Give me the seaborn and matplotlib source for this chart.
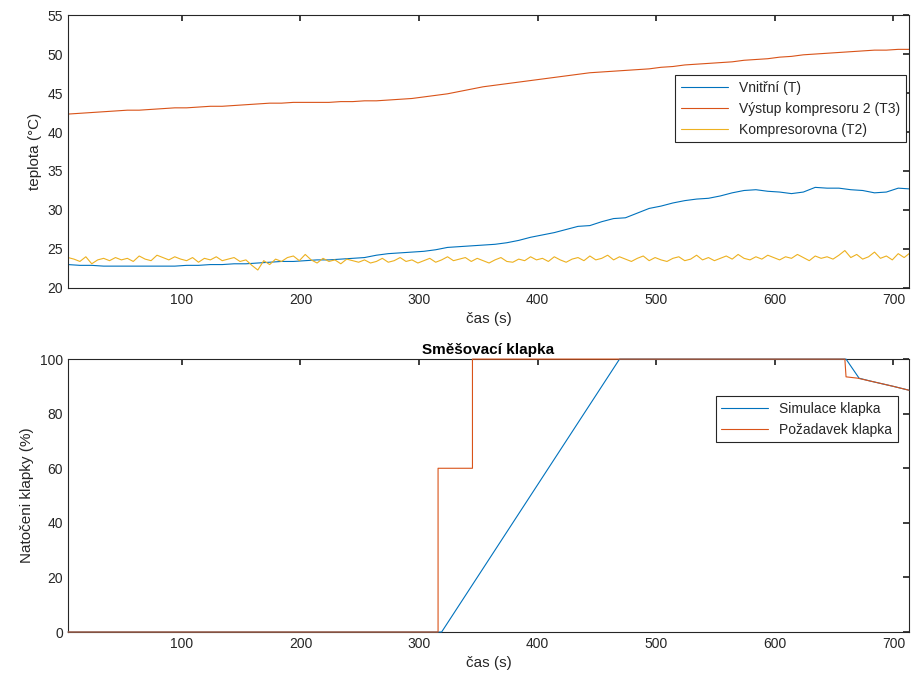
import numpy as np
import pandas as pd
import matplotlib
matplotlib.use("Agg")
import matplotlib.pyplot as plt
import seaborn as sns

# --- data ---
t_top = np.arange(4, 715, 10)
vnitrni = [
    23.0, 22.9, 22.9, 22.8, 22.8, 22.8, 22.8, 22.8, 22.8, 22.8,
    22.9, 22.9, 23.0, 23.0, 23.1, 23.1, 23.2, 23.3, 23.4, 23.4,
    23.5, 23.6, 23.6, 23.7, 23.8, 23.9, 24.2, 24.4, 24.5, 24.6,
    24.7, 24.9, 25.2, 25.3, 25.4, 25.5, 25.6, 25.8, 26.1, 26.5,
    26.8, 27.1, 27.5, 27.9, 28.0, 28.5, 28.9, 29.0, 29.6, 30.2,
    30.5, 30.9, 31.2, 31.4, 31.5, 31.8, 32.2, 32.5, 32.6, 32.4,
    32.3, 32.1, 32.3, 32.9, 32.8, 32.8, 32.6, 32.5, 32.2, 32.3,
    32.8, 32.7,
]
vystup_t3 = [
    42.3, 42.4, 42.5, 42.6, 42.7, 42.8, 42.8, 42.9, 43.0, 43.1,
    43.1, 43.2, 43.3, 43.3, 43.4, 43.5, 43.6, 43.7, 43.7, 43.8,
    43.8, 43.8, 43.8, 43.9, 43.9, 44.0, 44.0, 44.1, 44.2, 44.3,
    44.5, 44.7, 44.9, 45.2, 45.5, 45.8, 46.0, 46.2, 46.4, 46.6,
    46.8, 47.0, 47.2, 47.4, 47.6, 47.7, 47.8, 47.9, 48.0, 48.1,
    48.3, 48.4, 48.6, 48.7, 48.8, 48.9, 49.0, 49.2, 49.3, 49.4,
    49.6, 49.7, 49.9, 50.0, 50.1, 50.2, 50.3, 50.4, 50.5, 50.5,
    50.6, 50.6,
]
t_t2 = np.arange(4, 715, 5)
kompresorovna_t2 = [
    23.9, 23.7, 23.4, 24.0, 23.1, 23.6, 23.8, 23.5, 23.9, 23.6,
    23.8, 23.4, 24.1, 23.7, 23.5, 24.2, 23.9, 23.6, 24.0, 23.7,
    23.5, 23.9, 23.3, 23.8, 23.6, 24.0, 23.5, 23.7, 23.9, 23.4,
    23.6, 22.9, 22.3, 23.5, 23.0, 23.7, 23.4, 23.9, 24.1, 23.5,
    24.3, 23.6, 23.2, 23.8, 23.4, 23.6, 23.1, 23.7, 23.5, 23.3,
    23.6, 23.2, 23.4, 23.8, 23.3, 23.5, 23.9, 23.4, 23.6, 23.2,
    23.5, 23.8, 23.3, 23.6, 24.0, 23.5, 23.7, 23.9, 23.4, 23.8,
    23.5, 23.2, 23.6, 23.9, 23.4, 23.3, 23.7, 23.5, 24.0, 23.6,
    23.8, 23.4, 24.0, 23.6, 23.3, 23.7, 23.9, 23.5, 24.1, 23.6,
    23.8, 24.2, 23.6, 24.0, 23.7, 23.4, 23.8, 24.1, 23.5, 23.9,
    23.6, 23.4, 23.8, 24.0, 23.5, 23.7, 24.2, 23.6, 23.9, 23.5,
    23.8, 24.1, 23.7, 24.3, 23.8, 23.6, 24.0, 23.7, 24.2, 23.9,
    23.6, 24.0, 23.8, 24.3, 23.9, 23.5, 24.1, 23.8, 24.0, 23.7,
    24.2, 24.8, 23.9, 24.3, 23.7, 24.0, 24.6, 23.8, 24.1, 23.6,
    24.4, 23.9, 24.5,
]

sim_t = [4, 319, 469, 660, 671, 680, 690, 700, 713]
sim_klapka = [0, 0, 100, 100, 93, 92, 91, 90, 88.6]
req_t = [4, 316, 316, 345, 345, 659, 660, 670, 680, 690, 700, 713]
req_klapka = [0, 0, 60, 60, 100, 100, 93.5, 93, 92, 91, 90, 88.6]

c_blue, c_orange, c_yellow = "#0072BD", "#D95319", "#EDB120"
txt = "#262626"

sns.set_theme(style="white")
plt.rcParams["font.family"] = ["Liberation Sans", "DejaVu Sans"]
plt.rcParams.update({
    "xtick.direction": "in", "ytick.direction": "in",
    "xtick.top": True, "ytick.right": True,
    "xtick.color": txt, "ytick.color": txt,
    "xtick.labelsize": 10, "ytick.labelsize": 10,
    "xtick.major.size": 4, "ytick.major.size": 4,
    "axes.edgecolor": txt, "axes.linewidth": 0.8,
})

fig = plt.figure(figsize=(9.12, 6.84), dpi=100)
ax1 = fig.add_axes([0.0746, 0.579, 0.922, 0.399])
ax2 = fig.add_axes([0.0746, 0.076, 0.922, 0.399])

sns.lineplot(x=t_top, y=vnitrni, ax=ax1, color=c_blue, lw=0.8,
             label="Vnitřní (T)")
sns.lineplot(x=t_top, y=vystup_t3, ax=ax1, color=c_orange, lw=0.8,
             label="Výstup kompresoru 2 (T3)")
sns.lineplot(x=t_t2, y=kompresorovna_t2, ax=ax1, color=c_yellow, lw=0.8,
             label="Kompresorovna (T2)")
ax1.set_xlim(4, 713)
ax1.set_ylim(20, 55)
ax1.set_xticks(range(100, 701, 100))
ax1.set_yticks(range(20, 56, 5))
ax1.set_xlabel("čas (s)", fontsize=11, color=txt)
ax1.set_ylabel("teplota (°C)", fontsize=11, color=txt)
leg1 = ax1.legend(loc="upper right", bbox_to_anchor=(0.996, 0.78),
                  fancybox=False, framealpha=1, edgecolor=txt,
                  fontsize=10, handlelength=3.4, borderaxespad=0)
leg1.get_frame().set_linewidth(0.8)

sns.lineplot(x=sim_t, y=sim_klapka, ax=ax2, color=c_blue, lw=0.8,
             estimator=None, sort=False, label="Simulace klapka")
sns.lineplot(x=req_t, y=req_klapka, ax=ax2, color=c_orange, lw=0.8,
             estimator=None, sort=False, label="Požadavek klapka")
# flat segments at 100 % sit on the top frame, keep them visible
for ln in ax2.get_lines():
    ln.set_clip_on(False)
    ln.set_zorder(3)
ax2.set_xlim(4, 713)
ax2.set_ylim(0, 100)
ax2.set_xticks(range(100, 701, 100))
ax2.set_yticks(range(0, 101, 20))
ax2.set_xlabel("čas (s)", fontsize=11, color=txt)
ax2.set_ylabel("Natočeni klapky (%)", fontsize=11, color=txt)
ax2.set_title("Směšovací klapka", fontsize=11, fontweight="bold",
              color="black", pad=4)
leg2 = ax2.legend(loc="upper right", bbox_to_anchor=(0.987, 0.864),
                  fancybox=False, framealpha=1, edgecolor=txt,
                  fontsize=10, handlelength=3.4, borderaxespad=0)
leg2.get_frame().set_linewidth(0.8)

for ax in (ax1, ax2):
    for s in ax.spines.values():
        s.set_visible(True)

fig.savefig("out.png", dpi=100)
